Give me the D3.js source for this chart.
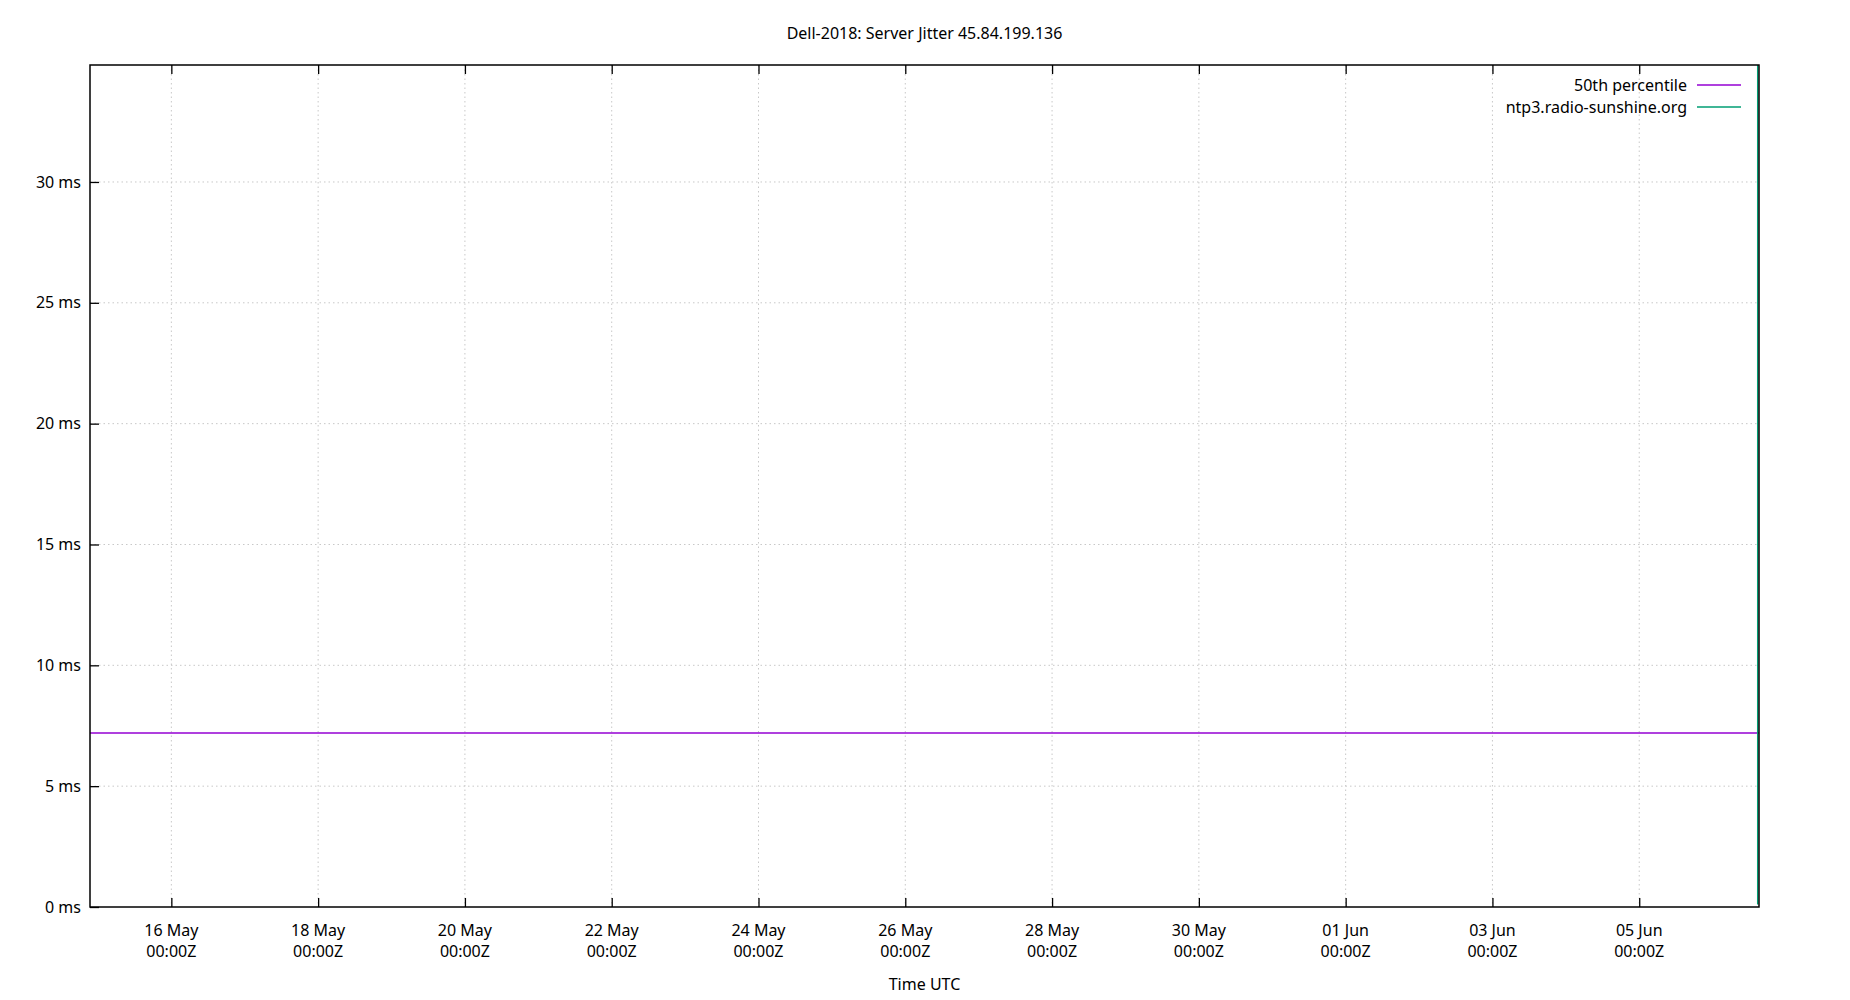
<!DOCTYPE html>
<html>
<head>
<meta charset="utf-8">
<script src="https://cdn.jsdelivr.net/npm/d3@7"></script>
<style>
  body { margin: 0; background: #fff; }
  text { font-family: "Noto Sans", sans-serif; fill: #000; }
</style>
</head>
<body>
<svg id="chart"></svg>
<script>
// x range of the plot (UTC)
const xRange = ["2019-05-14T21:24:00Z", "2019-06-06T15:10:00Z"];
const yRange = [0, 34.84];

// tick values
const xTicks = ["2019-05-16", "2019-05-18", "2019-05-20", "2019-05-22", "2019-05-24",
    "2019-05-26", "2019-05-28", "2019-05-30", "2019-06-01", "2019-06-03", "2019-06-05"];
const yTicks = [0, 5, 10, 15, 20, 25, 30];

// series: 50th percentile is flat across the whole range
const p50Times = ["2019-05-14T21:24:00Z", "2019-06-06T15:10:00Z"];
const p50Values = [7.2, 7.2];

// server samples, all bunched at the very end of the range
const serverTimes = ["2019-06-06T14:45:00Z", "2019-06-06T14:45:00Z"];
const serverValues = [0.1, 60];

const seriesNames = ["50th percentile", "ntp3.radio-sunshine.org"];
const seriesColors = ["#9400d3", "#009e73"];

const W = 1850, H = 1000;
const margin = {top: 65, right: 91, bottom: 93, left: 90},
    width = W - margin.left - margin.right,
    height = H - margin.top - margin.bottom;

const svgRoot = d3.select("#chart").attr("width", W).attr("height", H);
const svg = svgRoot.append("g")
    .attr("transform", `translate(${margin.left},${margin.top})`);

const x = d3.scaleUtc()
    .domain(xRange.map(d => new Date(d)))
    .range([0, width]);
const y = d3.scaleLinear()
    .domain(yRange)
    .range([height, 0]);

const xTickDates = xTicks.map(d => new Date(d + "T00:00:00Z"));

// grid
svg.append("g").selectAll("line").data(xTickDates).join("line")
    .attr("x1", d => x(d)).attr("x2", d => x(d))
    .attr("y1", 0).attr("y2", height)
    .attr("stroke", "#c8c8c8").attr("stroke-width", 1)
    .attr("stroke-dasharray", "1.5,3");
svg.append("g").selectAll("line").data(yTicks.filter(d => d > 0)).join("line")
    .attr("x1", 0).attr("x2", width)
    .attr("y1", d => y(d)).attr("y2", d => y(d))
    .attr("stroke", "#c8c8c8").attr("stroke-width", 1)
    .attr("stroke-dasharray", "1.5,3");

// clip for data
svg.append("clipPath").attr("id", "clip")
    .append("rect").attr("width", width).attr("height", height);

const line = d3.line()
    .x(d => x(d.t))
    .y(d => y(d.v));

const p50 = p50Times.map((t, i) => ({t: new Date(t), v: p50Values[i]}));
const server = serverTimes.map((t, i) => ({t: new Date(t), v: serverValues[i]}));

svg.append("path")
    .datum(p50)
    .attr("clip-path", "url(#clip)")
    .attr("fill", "none")
    .attr("stroke", seriesColors[0])
    .attr("stroke-width", 1.3)
    .attr("d", line);

svg.append("path")
    .datum(server)
    .attr("clip-path", "url(#clip)")
    .attr("fill", "none")
    .attr("stroke", seriesColors[1])
    .attr("stroke-width", 1.5)
    .attr("d", line);

// axes: ticks point inwards, mirrored on top
const fmtDay = d3.utcFormat("%d %b");
const xAxisB = svg.append("g")
    .attr("transform", `translate(0,${height})`)
    .call(d3.axisBottom(x).tickValues(xTickDates).tickSizeInner(-9).tickSizeOuter(0).tickFormat(""));
const xAxisT = svg.append("g")
    .call(d3.axisTop(x).tickValues(xTickDates).tickSizeInner(-9).tickSizeOuter(0).tickFormat(""));
const yAxisL = svg.append("g")
    .call(d3.axisLeft(y).tickValues(yTicks).tickSizeInner(-9).tickSizeOuter(0).tickFormat(""));
[xAxisB, xAxisT, yAxisL].forEach(a => {
    a.select(".domain").remove();
    a.selectAll(".tick line").attr("stroke", "#000").attr("stroke-width", 1.3);
});

// tick labels
const xl = svg.append("g").selectAll("text").data(xTickDates).join("text")
    .attr("x", d => x(d))
    .attr("y", height + 29)
    .attr("text-anchor", "middle")
    .style("font-size", "16px");
xl.append("tspan").attr("x", d => x(d)).text(d => fmtDay(d));
xl.append("tspan").attr("x", d => x(d)).attr("dy", 21).text("00:00Z");

svg.append("g").selectAll("text").data(yTicks).join("text")
    .attr("x", -9)
    .attr("y", d => y(d))
    .attr("dy", "0.35em")
    .attr("text-anchor", "end")
    .style("font-size", "16px")
    .text(d => d + " ms");

// border
svg.append("rect")
    .attr("width", width).attr("height", height)
    .attr("fill", "none").attr("stroke", "#000").attr("stroke-width", 1.5);

// title and axis label
svgRoot.append("text")
    .attr("x", margin.left + width / 2)
    .attr("y", 39)
    .attr("text-anchor", "middle")
    .style("font-size", "16px")
    .text("Dell-2018: Server Jitter 45.84.199.136");

svgRoot.append("text")
    .attr("x", margin.left + width / 2)
    .attr("y", 990)
    .attr("text-anchor", "middle")
    .style("font-size", "16px")
    .text("Time UTC");

// legend
const legend = svg.append("g")
    .attr("transform", `translate(${width - 72},20)`);
seriesNames.forEach((name, i) => {
    const row = legend.append("g").attr("transform", `translate(0,${i * 22})`);
    row.append("text")
        .attr("x", 0).attr("y", 0).attr("dy", "0.35em")
        .attr("text-anchor", "end")
        .style("font-size", "16px")
        .text(name);
    row.append("line")
        .attr("x1", 10).attr("x2", 54)
        .attr("stroke", seriesColors[i]).attr("stroke-width", 1.3);
});
</script>
</body>
</html>
